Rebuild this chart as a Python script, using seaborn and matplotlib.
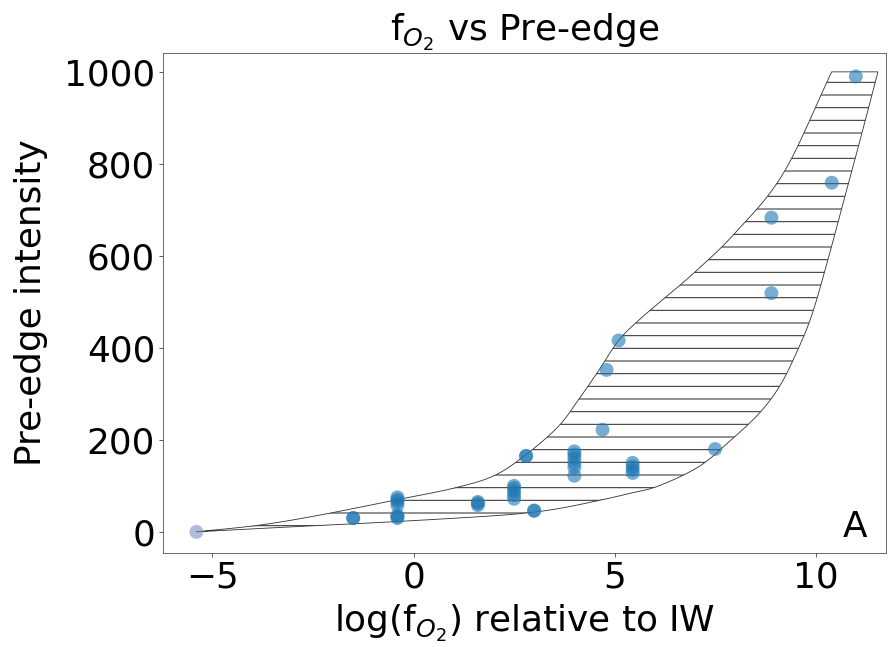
import numpy as np
import pandas as pd
import matplotlib
matplotlib.use("Agg")
import matplotlib.pyplot as plt
import seaborn as sns

# ---- data ----
log_fo2 = [-5.4,
           -1.5, -1.5,
           -0.4, -0.4, -0.4, -0.4, -0.4, -0.4, -0.4,
           1.6, 1.6, 1.6,
           2.5, 2.5, 2.5, 2.5, 2.5,
           2.8, 2.8,
           3.0, 3.0,
           4.0, 4.0, 4.0, 4.0, 4.0, 4.0,
           4.7, 4.8, 5.1,
           5.45, 5.45, 5.45, 5.45,
           7.5, 8.9, 8.9, 10.4, 11.0]
pre_edge = [0,
            30, 30,
            30, 33, 36, 58, 65, 70, 75,
            58, 65, 62,
            72, 80, 88, 95, 100,
            165, 165,
            46, 46,
            122, 140, 150, 160, 168, 175,
            222, 352, 416,
            128, 135, 142, 150,
            180, 519, 683, 759, 990]
kind = ["ref"] + ["sample"] * (len(log_fo2) - 1)

# envelope (hatched region) boundaries
upper_x = [-5.4, -3.8, -2.3, -0.4, 1.0, 2.0, 2.8, 3.6, 4.1, 4.6, 5.1, 5.6, 6.2, 7.0, 8.0, 9.2, 10.4]
upper_y = [0, 15, 37, 70, 95, 122, 168, 229, 287, 350, 416, 460, 505, 565, 650, 780, 1000]
lower_x = [-5.4, -3.0, -0.5, 2.0, 3.0, 3.7, 4.6, 5.4, 6.1, 7.1, 7.9, 8.6, 9.1, 9.5, 9.9, 10.3, 10.7, 11.1, 11.55]
lower_y = [0, 11, 22, 35, 43, 52, 68, 84, 100, 142, 200, 258, 316, 385, 470, 590, 720, 850, 1000]

x_ticks = [-5, 0, 5, 10]
y_ticks = [0, 200, 400, 600, 800, 1000]

title = r"f$_{O_2}$ vs Pre-edge"
xlabel = r"log(f$_{O_2}$) relative to IW"
ylabel = "Pre-edge intensity"
panel = "A"


def smooth_curve(xs, ys, n=16):
    """Catmull-Rom drawing path through the read boundary points."""
    p = np.column_stack([xs, ys]).astype(float)
    scale = np.array([1.0, 1.0 / 55.0])
    q = p * scale
    q = np.vstack([2 * q[0] - q[1], q, 2 * q[-1] - q[-2]])
    out = []
    for i in range(1, len(q) - 2):
        p0, p1, p2, p3 = q[i - 1], q[i], q[i + 1], q[i + 2]
        for t in np.linspace(0, 1, n, endpoint=False):
            t2, t3 = t * t, t * t * t
            pt = 0.5 * ((2 * p1) + (-p0 + p2) * t + (2 * p0 - 5 * p1 + 4 * p2 - p3) * t2
                        + (-p0 + 3 * p1 - 3 * p2 + p3) * t3)
            out.append(pt)
    out.append(q[-2])
    out = np.array(out) / scale
    return out[:, 0], out[:, 1]


# ---- plotting ----
sns.set_style("ticks")
plt.rcParams["font.family"] = ["DejaVu Sans"]
plt.rcParams["text.color"] = "black"
plt.rcParams["axes.labelcolor"] = "black"
plt.rcParams["xtick.color"] = "black"
plt.rcParams["ytick.color"] = "black"
plt.rcParams["hatch.color"] = "#2a2a2a"
plt.rcParams["hatch.linewidth"] = 1.0

DPI = 76
fig = plt.figure(figsize=(888 / DPI, 647 / DPI), dpi=DPI)
ax = fig.add_axes([163 / 888, 1 - 553 / 647, (886 - 163) / 888, (553 - 53) / 647])

ux, uy = smooth_curve(upper_x, upper_y)
lx, ly = smooth_curve(lower_x, lower_y)
poly_x = np.concatenate([ux, lx[::-1]])
poly_y = np.concatenate([uy, ly[::-1]])
ax.fill(poly_x, poly_y, facecolor="none", edgecolor="#333333",
        hatch="-", linewidth=0.8, zorder=1)

df = pd.DataFrame({"x": log_fo2, "y": pre_edge, "kind": kind})
sns.scatterplot(data=df, x="x", y="y", hue="kind",
                palette={"sample": "#1f77b4", "ref": "#7f8fc4"},
                s=175, alpha=0.6, linewidth=0, legend=False, ax=ax, zorder=3)

ax.set_xlim(-6.23, 11.75)
ax.set_ylim(-46, 1041)
ax.set_xticks(x_ticks)
ax.set_yticks(y_ticks)

fs = 34
ax.set_title(title, fontsize=fs, pad=6)
ax.set_xlabel(xlabel, fontsize=fs, labelpad=7)
ax.set_ylabel(ylabel, fontsize=fs, labelpad=15)
ax.tick_params(labelsize=fs, length=4, width=0.8, color="#444444")
for sp in ax.spines.values():
    sp.set_color("#555555")
    sp.set_linewidth(0.8)

ax.text(0.957, 0.052, panel, transform=ax.transAxes, fontsize=fs,
        ha="center", va="center")

fig.savefig("out.png", dpi=DPI)
